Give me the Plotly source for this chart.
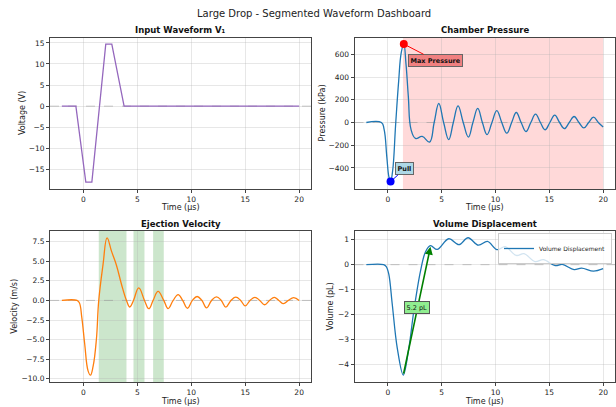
import plotly.graph_objects as go

# ---------------- data ----------------
t_input = [-2.0, -0.7, 0.22, 0.78, 2.07, 2.63, 3.77, 20.0]
v_input = [0, 0, -18.0, -18.0, 14.7, 14.7, 0, 0]

t_pressure = [-2.0, -0.6, -0.35, -0.1, 0.1, 0.25, 0.45, 0.72, 1.0, 1.25, 1.48, 1.68, 1.9, 2.15,
              2.57, 3.19, 3.87, 4.3, 4.73, 5.18, 5.65, 6.08, 6.52, 7.0, 7.48, 7.9, 8.35, 8.78,
              9.21, 9.67, 10.12, 10.58, 11.05, 11.5, 11.93, 12.38, 12.83, 13.28, 13.72, 14.17,
              14.6, 15.05, 15.5, 15.95, 16.4, 16.85, 17.3, 17.75, 18.2, 18.65, 19.1, 19.55, 20.0]
p_pressure = [0, 0, -60, -300, -480, -520, -420, -20, 360, 620, 690, 520, 230, -60,
              -140, -123, -172, 0, 167, 0, -150, 0, 146, 0, -128, 0, 124, 0,
              -106, 0, 105, 0, -94, 0, 88, 0, -80, 0, 74, 0,
              -64, 0, 65, 0, -54, 0, 53, 0, -48, 0, 47, 0, -40]

t_velocity = [-2.0, -0.6, -0.38, -0.15, 0.12, 0.43, 0.65, 0.9, 1.2, 1.42, 1.82, 2.19, 2.6,
              3.06, 3.52, 3.99, 4.3, 4.64, 5.13, 5.66, 6.06, 6.46, 6.92, 7.45, 7.85, 8.32,
              8.78, 9.2, 9.65, 10.1, 10.54, 10.98, 11.41, 11.88, 12.34, 12.78, 13.2, 13.68,
              14.13, 14.58, 15.0, 15.45, 15.9, 16.35, 16.8, 17.25, 17.7, 18.12, 18.55, 19.0,
              19.49, 20.0]
v_velocity = [0, 0, -0.3, -2.2, -5.6, -9.0, -9.55, -8.4, -5.0, 0, 4.6, 8.0, 6.3,
              4.5, 2.1, 0, -0.84, 0, 1.6, 0, -1.06, 0, 1.16, 0, -1.04, 0,
              0.75, 0, -1.0, 0, 0.5, 0, -0.95, 0, 0.45, 0, -0.85, 0,
              0.42, 0, -0.7, 0, 0.4, 0, -0.55, 0, 0.4, 0, -0.42, 0,
              0.36, 0]

t_volume = [-2.0, -0.4, -0.15, 0.09, 0.41, 0.87, 1.43, 1.95, 2.41, 3.03, 3.5, 3.96, 4.58,
            5.65, 6.6, 7.45, 8.41, 9.25, 10.14, 10.9, 11.93, 12.65, 13.68, 14.45, 15.54,
            16.2, 17.3, 18.0, 19.1, 20.0]
v_volume = [0, 0, -0.08, -0.39, -1.6, -3.34, -4.43, -3.34, -1.86, -0.26, 0.52, 0.76, 0.61,
            1.04, 0.8, 1.08, 0.78, 0.93, 0.6, 0.72, 0.37, 0.44, 0.12, 0.2, -0.04,
            0.01, -0.2, -0.14, -0.26, -0.16]

pull_point = (0.25, -520)
max_point = (1.48, 690)
red_span = (1.4, 20.0)
green_spans = [(1.42, 3.99), (4.64, 5.66), (6.46, 7.45)]
vol_min = (1.43, -4.43)
vol_peak = (3.96, 0.72)
vol_label = "5.2 pL"

# ---------------- layout helpers ----------------
W, H = 616, 407
def px_x(p): return p / W
def px_y(p): return 1 - p / H

dom_x_left = [px_x(50), px_x(311)]
dom_x_right = [px_x(354.5), px_x(615)]
dom_y_top = [px_y(189), px_y(37.7)]
dom_y_bot = [px_y(382.3), px_y(231)]

FONT = "DejaVu Sans"
fig = go.Figure()

fig.add_trace(go.Scatter(x=t_input, y=v_input, mode="lines", line=dict(color="#9467bd", width=1.3),
                         xaxis="x", yaxis="y", showlegend=False))
fig.add_trace(go.Scatter(x=t_pressure, y=p_pressure, mode="lines",
                         line=dict(color="#1f77b4", width=1.3, shape="spline", smoothing=1.2),
                         xaxis="x2", yaxis="y2", showlegend=False))
fig.add_trace(go.Scatter(x=[max_point[0]], y=[max_point[1]], mode="markers",
                         marker=dict(color="red", size=8), xaxis="x2", yaxis="y2", showlegend=False))
fig.add_trace(go.Scatter(x=[pull_point[0]], y=[pull_point[1]], mode="markers",
                         marker=dict(color="blue", size=8), xaxis="x2", yaxis="y2", showlegend=False))
fig.add_trace(go.Scatter(x=t_velocity, y=v_velocity, mode="lines",
                         line=dict(color="#ff7f0e", width=1.3, shape="spline", smoothing=1.2),
                         xaxis="x3", yaxis="y3", showlegend=False))
fig.add_trace(go.Scatter(x=t_volume, y=v_volume, mode="lines", name="Volume Displacement",
                         line=dict(color="#1f77b4", width=1.3, shape="spline", smoothing=1.0),
                         xaxis="x4", yaxis="y4", showlegend=True))

axis_common = dict(showline=True, mirror=True, linecolor="#444", linewidth=1,
                   ticks="outside", ticklen=3, tickcolor="#444", tickwidth=0.8,
                   showgrid=True, gridcolor="rgba(176,176,176,0.3)", gridwidth=0.8,
                   zeroline=False, tickfont=dict(family=FONT, size=7.5, color="#222"))
xr = [-3.1, 21.1]
xt = [0, 5, 10, 15, 20]
fig.update_layout(
    xaxis=dict(domain=dom_x_left, anchor="y", range=xr, tickvals=xt, **axis_common),
    yaxis=dict(domain=dom_y_top, anchor="x", range=[-19.63, 16.23], tickvals=[-15, -10, -5, 0, 5, 10, 15], **axis_common),
    xaxis2=dict(domain=dom_x_right, anchor="y2", range=xr, tickvals=xt, **axis_common),
    yaxis2=dict(domain=dom_y_top, anchor="x2", range=[-585, 746], tickvals=[-400, -200, 0, 200, 400, 600], **axis_common),
    xaxis3=dict(domain=dom_x_left, anchor="y3", range=xr, tickvals=xt, **axis_common),
    yaxis3=dict(domain=dom_y_bot, anchor="x3", range=[-10.46, 8.87],
                tickvals=[-10, -7.5, -5, -2.5, 0, 2.5, 5, 7.5], tickformat=".1f", **axis_common),
    xaxis4=dict(domain=dom_x_right, anchor="y4", range=xr, tickvals=xt, **axis_common),
    yaxis4=dict(domain=dom_y_bot, anchor="x4", range=[-4.72, 1.35], tickvals=[-4, -3, -2, -1, 0, 1], **axis_common),
    width=W, height=H, margin=dict(l=0, r=0, t=0, b=0),
    paper_bgcolor="white", plot_bgcolor="white",
    font=dict(family=FONT, color="#222"),
    legend=dict(x=px_x(612), y=px_y(233), xanchor="right", yanchor="top",
                bgcolor="rgba(255,255,255,0.8)", bordercolor="#ccc", borderwidth=1,
                font=dict(family=FONT, size=6, color="#222"), itemwidth=30,
                tracegroupgap=0),
)

shapes = []
shapes.append(dict(type="rect", xref="x2", yref="paper", x0=red_span[0], x1=red_span[1],
                   y0=dom_y_top[0], y1=dom_y_top[1],
                   fillcolor="rgba(255,0,0,0.15)", line=dict(width=0), layer="below"))
for a, b in green_spans:
    shapes.append(dict(type="rect", xref="x3", yref="paper", x0=a, x1=b, y0=dom_y_bot[0], y1=dom_y_bot[1],
                       fillcolor="rgba(0,128,0,0.2)", line=dict(width=0), layer="below"))
for xa, ya, dom in [("x", "y", dom_x_left), ("x2", "y2", dom_x_right), ("x3", "y3", dom_x_left), ("x4", "y4", dom_x_right)]:
    shapes.append(dict(type="line", xref="paper", yref=ya, x0=dom[0], x1=dom[1], y0=0, y1=0,
                       line=dict(color="rgba(128,128,128,0.6)", width=0.8, dash="dash"), layer="below"))
fig.update_layout(shapes=shapes)

ann = []
ann.append(dict(text="Large Drop - Segmented Waveform Dashboard", x=0.51, y=px_y(14), xref="paper", yref="paper",
                showarrow=False, font=dict(family=FONT, size=10, color="#222"), xanchor="center", yanchor="middle"))
for txt, cx, cy in [("<b>Input Waveform V₁</b>", 180.5, 30), ("<b>Chamber Pressure</b>", 484.75, 30),
                    ("<b>Ejection Velocity</b>", 180.5, 224), ("<b>Volume Displacement</b>", 484.75, 224)]:
    ann.append(dict(text=txt, x=px_x(cx), y=px_y(cy), xref="paper", yref="paper", showarrow=False,
                    font=dict(family=FONT, size=8.5, color="#111"), xanchor="center", yanchor="middle"))
for cx, cy in [(180.5, 207.5), (484.75, 207.5), (180.5, 401), (484.75, 401)]:
    ann.append(dict(text="Time (μs)", x=px_x(cx), y=px_y(cy), xref="paper", yref="paper", showarrow=False,
                    font=dict(family=FONT, size=8, color="#222"), xanchor="center", yanchor="middle"))
for txt, cx, cy in [("Voltage (V)", 22.7, 113.4), ("Pressure (kPa)", 322, 113.4),
                    ("Velocity (m/s)", 15, 306.7), ("Volume (pL)", 330.7, 306.7)]:
    ann.append(dict(text=txt, x=px_x(cx), y=px_y(cy), xref="paper", yref="paper", showarrow=False, textangle=-90,
                    font=dict(family=FONT, size=8, color="#222"), xanchor="center", yanchor="middle"))
ann.append(dict(text="<b>Max Pressure</b>", x=max_point[0], y=max_point[1], xref="x2", yref="y2",
                ax=4.4, ay=547, axref="x2", ayref="y2", showarrow=True, arrowhead=0, arrowcolor="red",
                arrowwidth=1, bgcolor="#f08080", bordercolor="#666", borderwidth=1, borderpad=1.5,
                font=dict(family=FONT, size=6.5, color="#111")))
ann.append(dict(text="<b>Pull</b>", x=pull_point[0], y=pull_point[1], xref="x2", yref="y2",
                ax=1.55, ay=-409, axref="x2", ayref="y2", showarrow=True, arrowhead=0, arrowcolor="blue",
                arrowwidth=1, bgcolor="#add8e6", bordercolor="#666", borderwidth=1, borderpad=1.5,
                font=dict(family=FONT, size=6.5, color="#111")))
ann.append(dict(text="", x=vol_peak[0], y=vol_peak[1], xref="x4", yref="y4",
                ax=vol_min[0], ay=vol_min[1], axref="x4", ayref="y4", showarrow=True, arrowhead=2,
                arrowsize=1, arrowcolor="green", arrowwidth=1.6))
ann.append(dict(text=vol_label, x=(vol_min[0] + vol_peak[0]) / 2, y=-1.72, xref="x4", yref="y4",
                showarrow=False, bgcolor="#90ee90", bordercolor="#555", borderwidth=1, borderpad=1.5,
                font=dict(family=FONT, size=6.5, color="#111")))
fig.update_layout(annotations=ann)

fig.write_html("out.html")
